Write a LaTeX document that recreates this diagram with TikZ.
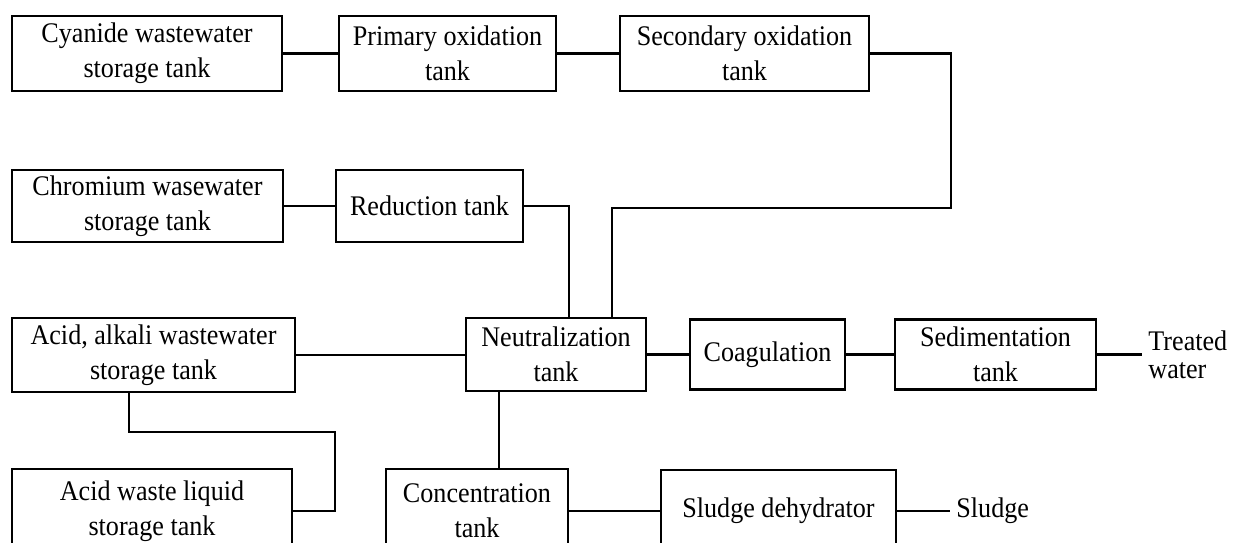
\documentclass[tikz,border=0pt]{standalone}
\usepackage{fontspec}
\setmainfont{Liberation Serif}[FakeStretch=0.92]
\begin{document}
\begin{tikzpicture}[x=0.5pt,y=-0.5pt,
  box/.style={draw, line width=1.4pt, align=center, inner sep=0pt,
    font=\fontsize{14.2pt}{17.5pt}\selectfont},
  link/.style={line width=1.4pt},
  lbl/.style={inner sep=3pt, align=left, font=\fontsize{14.2pt}{14pt}\selectfont}]
\useasboundingbox (0,0) rectangle (1235,542);
\clip (0,0) rectangle (1235,542);

% cyanide line
\node[box, minimum width=135pt, minimum height=37.5pt] (cyan) at (147,53.5) {Cyanide wastewater\\storage tank};
\node[box, minimum width=108.5pt, minimum height=37.5pt] (prim) at (447.5,53.5) {Primary oxidation\\tank};
\node[box, minimum width=124.5pt, minimum height=37.5pt] (sec) at (744.5,53.5) {Secondary oxidation\\tank};

% chromium line
\node[box, minimum width=135.5pt, minimum height=36pt] (chrom) at (147.5,206) {Chromium wasewater\\storage tank};
\node[box, minimum width=93.5pt, minimum height=36pt] (red) at (429.5,206) {Reduction tank};

% main line
\node[box, minimum width=141.5pt, minimum height=37pt] (acid) at (153.5,355) {Acid, alkali wastewater\\storage tank};
\node[box, minimum width=90pt, minimum height=36.5pt] (neut) at (556,354.5) {Neutralization\\tank};
\node[box, minimum width=77.5pt, minimum height=35pt] (coag) at (767.5,354.5) {Coagulation};
\node[box, minimum width=100.5pt, minimum height=35pt] (sed) at (995.5,354.5) {Sedimentation\\tank};

% bottom line
\node[box, minimum width=140pt, minimum height=42pt] (acidw) at (152,511) {Acid waste liquid\\storage tank};
\node[box, minimum width=91pt, minimum height=42pt] (conc) at (477,511) {Concentration\\tank};
\node[box, minimum width=117.5pt, minimum height=41pt] (sludge) at (778.5,511) {Sludge dehydrator};

% outlets
\coordinate (tw) at (1142,354.5);
\coordinate (sl) at (950,511);
\node[lbl, anchor=west] (twl) at (tw) {Treated\\water};
\node[lbl, anchor=west] (sll) at (sl) {Sludge};

% junction points
\coordinate (j1) at (951,208);
\coordinate (k1) at (335,432);

\draw[link] (cyan.east) -- (prim.west);
\draw[link] (prim.east) -- (sec.west);
\draw[link] (sec.east) -| (j1) -| ([xshift=28pt]neut.north);
\draw[link] (chrom.east) -- (red.west);
\draw[link] (red.east) -| ([xshift=6.5pt]neut.north);
\draw[link] (acid.east) -- (acid.east -| neut.west);
\draw[link] (neut.east) -- (coag.west);
\draw[link] (coag.east) -- (sed.west);
\draw[link] (sed.east) -- (tw);
\draw[link] ([xshift=-12.25pt]acid.south) |- (k1) |- (acidw.east);
\draw[link] ([xshift=-28.5pt]neut.south) -- ([xshift=-28.5pt]neut.south |- conc.north);
\draw[link] (conc.east) -- (sludge.west);
\draw[link] (sludge.east) -- (sl);
\end{tikzpicture}
\end{document}
